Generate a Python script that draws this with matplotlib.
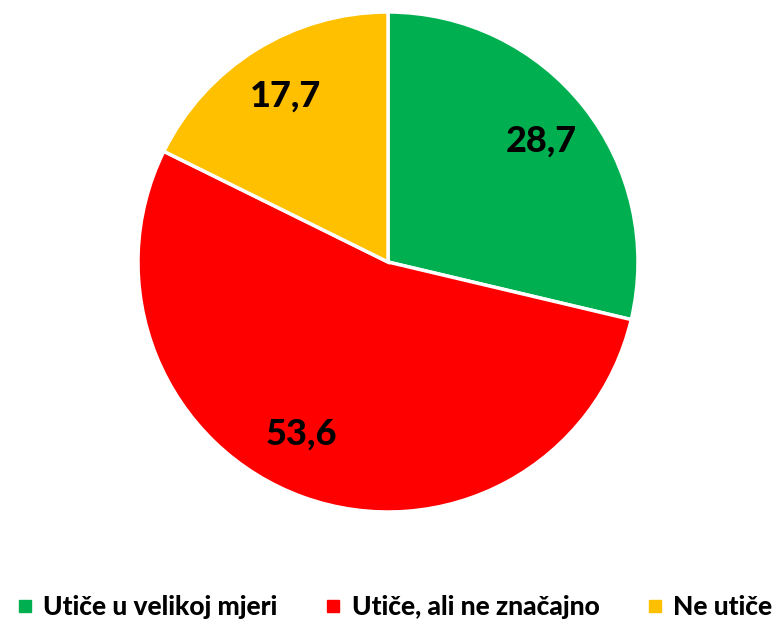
import numpy as np
import matplotlib.pyplot as plt
from matplotlib.lines import Line2D

# Data
labels = ['Utiče u velikoj mjeri', 'Utiče, ali ne značajno', 'Ne utiče']
values = [28.7, 53.6, 17.7]
value_text = ['28,7', '53,6', '17,7']
colors = ['#00B050', '#FF0000', '#FFC000']

plt.rcParams['font.family'] = ['Lato', 'DejaVu Sans']

W, H = 779, 623
fig = plt.figure(figsize=(W / 100, H / 100), dpi=100)
ax = fig.add_axes([138 / W, (H - 512) / H, 500 / W, 500 / H])

wedges, texts = ax.pie(values, colors=colors, startangle=90, counterclock=False,
                       labels=value_text, labeldistance=0.78,
                       wedgeprops=dict(edgecolor='white', linewidth=2.5),
                       textprops=dict(fontsize=26, fontweight='black', color='black',
                                      ha='center', va='center'))
ax.set_xlim(-1, 1)
ax.set_ylim(-1, 1)
ax.set_aspect('equal')

# Excel puts the big slice's label a bit further round than the mid-angle
w = wedges[1]
ang = np.deg2rad((w.theta1 + w.theta2) / 2 - 7)
texts[1].set_position((0.77 * np.cos(ang), 0.77 * np.sin(ang)))

# Legend with square markers
handles = [Line2D([0], [0], marker='s', linestyle='', markersize=8,
                  markerfacecolor=c, markeredgecolor=c) for c in colors]
fig.legend(handles, labels, loc='center', bbox_to_anchor=(0.505, 1 - 607 / H),
           ncol=3, frameon=False, handlelength=0.8, handletextpad=0.3,
           columnspacing=1.7, borderpad=0,
           prop=dict(size=19, weight='black'))

fig.savefig('out.png', dpi=100)
